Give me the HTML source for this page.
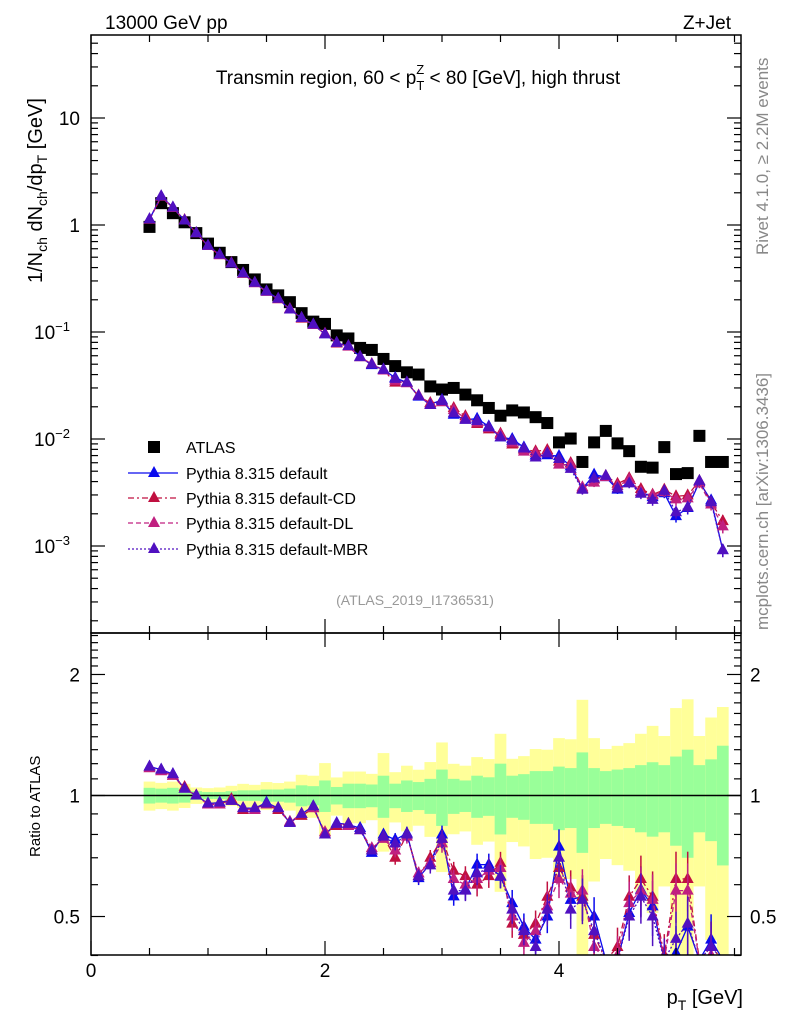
<!DOCTYPE html>
<html><head><meta charset="utf-8">
<style>
html,body{margin:0;padding:0;background:#fff;width:786px;height:1024px;overflow:hidden;}
svg{display:block;font-family:"Liberation Sans",sans-serif;}
</style></head>
<body>
<svg id="chart" width="786" height="1024" viewBox="0 0 786 1024" xmlns="http://www.w3.org/2000/svg">
<rect x="0" y="0" width="786" height="1024" fill="#fff"/>
<g id="ratioBands"></g>
<g id="mainG"></g>
<g id="ratioG"></g>
<g id="axesG"></g>
<text x="105" y="29" font-size="19">13000 GeV pp</text>
<text x="731" y="29" font-size="19" text-anchor="end">Z+Jet</text>
<text x="418" y="84" font-size="19" text-anchor="middle">Transmin region, 60 &lt; p<tspan font-size="13" dy="6">T</tspan><tspan font-size="13" dx="-8" dy="-16">Z</tspan><tspan dy="10"> &lt; 80 [GeV], high thrust</tspan></text>
<text transform="translate(42,283) rotate(-90)" font-size="20">1/N<tspan font-size="14" dy="5">ch</tspan><tspan dy="-5"> dN</tspan><tspan font-size="14" dy="5">ch</tspan><tspan dy="-5">/dp</tspan><tspan font-size="14" dy="5">T</tspan><tspan dy="-5"> [GeV]</tspan></text>
<text transform="translate(40,857) rotate(-90)" font-size="15">Ratio to ATLAS</text>
<text transform="translate(768,255) rotate(-90)" font-size="17" fill="#888">Rivet 4.1.0, ≥ 2.2M events</text>
<text transform="translate(768,630) rotate(-90)" font-size="17" fill="#888">mcplots.cern.ch [arXiv:1306.3436]</text>
<text x="415" y="605" font-size="14" fill="#999" text-anchor="middle">(ATLAS_2019_I1736531)</text>
<text x="743" y="1004" font-size="20" text-anchor="end">p<tspan font-size="14" dy="6">T</tspan><tspan dy="-6"> [GeV]</tspan></text>
<g id="legendG"></g>
</svg>
<script>
const pT = [0.5,0.6,0.7,0.8,0.9,1.0,1.1,1.2,1.3,1.4,1.5,1.6,1.7,1.8,1.9,2.0,2.1,2.2,2.3,2.4,2.5,2.6,2.7,2.8,2.9,3.0,3.1,3.2,3.3,3.4,3.5,3.6,3.7,3.8,3.9,4.0,4.1,4.2,4.3,4.4,4.5,4.6,4.7,4.8,4.9,5.0,5.1,5.2,5.3,5.4];
const atlas = [0.96,1.6,1.29,1.06,0.84,0.67,0.55,0.45,0.38,0.31,0.25,0.22,0.19,0.15,0.125,0.119,0.093,0.087,0.071,0.068,0.056,0.048,0.042,0.040,0.031,0.029,0.030,0.026,0.023,0.0195,0.0165,0.0185,0.0177,0.016,0.0141,0.0093,0.0101,0.0061,0.0093,0.0119,0.0091,0.0077,0.0055,0.0054,0.0084,0.0047,0.0048,0.0107,0.0061,0.0061];
const ratioDefault = [1.18,1.16,1.13,1.04,1.0,0.955,0.96,0.975,0.93,0.93,0.96,0.93,0.855,0.9,0.94,0.80,0.854,0.846,0.83,0.72,0.80,0.776,0.805,0.623,0.679,0.80,0.561,0.583,0.673,0.673,0.628,0.54,0.472,0.438,0.50,0.746,0.55,0.561,0.50,0.37,0.37,0.51,0.583,0.53,0.37,0.405,0.472,0.37,0.438,0.15];
const ratioCD = [1.17,1.15,1.12,1.05,1.0,0.95,0.95,0.98,0.92,0.93,0.95,0.92,0.86,0.89,0.93,0.81,0.84,0.85,0.82,0.73,0.79,0.70,0.80,0.63,0.70,0.78,0.65,0.63,0.60,0.63,0.68,0.48,0.45,0.48,0.56,0.66,0.59,0.56,0.45,0.38,0.42,0.56,0.62,0.56,0.40,0.62,0.62,0.38,0.42,0.28];
const ratioDL = [1.17,1.15,1.12,1.04,1.0,0.95,0.95,0.97,0.93,0.92,0.95,0.93,0.86,0.9,0.93,0.81,0.85,0.84,0.82,0.74,0.78,0.73,0.79,0.64,0.68,0.76,0.62,0.60,0.62,0.65,0.66,0.50,0.43,0.46,0.53,0.62,0.57,0.58,0.42,0.37,0.40,0.54,0.58,0.55,0.38,0.58,0.58,0.36,0.40,0.25];
const ratioMBR = [1.18,1.16,1.13,1.04,1.0,0.955,0.96,0.97,0.93,0.93,0.955,0.93,0.855,0.9,0.94,0.80,0.85,0.85,0.82,0.73,0.79,0.76,0.80,0.63,0.67,0.78,0.58,0.58,0.64,0.66,0.63,0.52,0.46,0.42,0.52,0.70,0.52,0.55,0.46,0.38,0.38,0.50,0.56,0.50,0.39,0.44,0.48,0.38,0.42,0.15];
const errRel = [0.01,0.01,0.01,0.01,0.01,0.01,0.01,0.01,0.01,0.01,0.01,0.01,0.01,0.015,0.015,0.02,0.02,0.02,0.02,0.025,0.025,0.03,0.03,0.03,0.035,0.04,0.04,0.045,0.05,0.05,0.05,0.06,0.06,0.06,0.07,0.08,0.08,0.1,0.09,0.08,0.09,0.1,0.11,0.12,0.1,0.13,0.13,0.1,0.12,0.14];
const yellowUp = [1.083,1.075,1.083,1.069,1.047,1.043,1.047,1.057,1.069,1.063,1.080,1.074,1.083,1.126,1.12,1.204,1.109,1.147,1.147,1.132,1.275,1.143,1.186,1.159,1.211,1.355,1.199,1.186,1.246,1.232,1.424,1.234,1.253,1.305,1.30,1.389,1.38,1.73,1.389,1.305,1.329,1.35,1.424,1.49,1.406,1.65,1.735,1.406,1.563,1.66];
const greenUp = [1.045,1.04,1.045,1.04,1.025,1.02,1.02,1.025,1.03,1.03,1.035,1.035,1.04,1.06,1.055,1.09,1.05,1.07,1.07,1.065,1.12,1.07,1.09,1.08,1.10,1.16,1.10,1.09,1.12,1.11,1.20,1.12,1.13,1.15,1.15,1.18,1.17,1.28,1.17,1.15,1.16,1.17,1.19,1.21,1.19,1.25,1.30,1.19,1.23,1.33];
const xTickLabels = ["0","2","4"];
const yTickLabels = ["10","1","10","10","10"];

const NS="http://www.w3.org/2000/svg";
const X0=91,X1=741,MT=35,MB=633,RT=633,RB=955;
function sx(v){return X0+v*117;}
function sy(v){return 225-107*Math.log10(v);}
function ry(r){return 795.5-402*Math.log10(r);}
function ryc(r){return Math.min(Math.max(ry(r),RT-5),RB+5);}
function mk(tag,attrs,parent){const e=document.createElementNS(NS,tag);for(const k in attrs)e.setAttribute(k,attrs[k]);parent.appendChild(e);return e;}
const mainG=document.getElementById('mainG'),ratioG=document.getElementById('ratioG'),bandG=document.getElementById('ratioBands'),axesG=document.getElementById('axesG'),legG=document.getElementById('legendG');
const clampR=r=>Math.min(Math.max(r,0.38),2.55);
const inRange=r=>r>0.385&&r<2.55;

const defs=mk('defs',{},document.getElementById('chart'));
const c1=mk('clipPath',{id:'cm'},defs);mk('rect',{x:X0,y:MT,width:X1-X0,height:MB-MT},c1);
const c2=mk('clipPath',{id:'cr'},defs);mk('rect',{x:X0,y:RT,width:X1-X0,height:RB-RT},c2);
mainG.setAttribute('clip-path','url(#cm)');
ratioG.setAttribute('clip-path','url(#cr)');
bandG.setAttribute('clip-path','url(#cr)');

pT.forEach((p,i)=>{
  const xa=sx(p-0.05),xb=sx(p+0.05);
  const yu=ry(clampR(yellowUp[i])),yd=ry(clampR(Math.max(2-yellowUp[i],0.38)));
  const r1=mk('rect',{x:xa,y:yu,width:xb-xa,height:Math.min(yd,RB)-yu,fill:'#ffff99'},bandG);
  
  
  const gu=ry(clampR(greenUp[i])),gd=ry(clampR(Math.max(2-greenUp[i],0.38)));
  const r2=mk('rect',{x:xa,y:gu,width:xb-xa,height:Math.min(gd,RB)-gu,fill:'#99ff99'},bandG);
  
  
});
const ul=mk('line',{x1:X0,x2:X1,y1:ry(1),y2:ry(1),stroke:'#000','stroke-width':1.5},ratioG);



pT.forEach((p,i)=>{
  const s=mk('rect',{x:sx(p)-6,y:sy(atlas[i])-6,width:12,height:12,fill:'#000'},mainG);
  
  
});

const series=[
 {name:'default',r:ratioDefault,col:'#0a0aee',dash:'',label:'Pythia 8.315 default'},
 {name:'default-cd',r:ratioCD,col:'#c01040',dash:'6,3,2,3',label:'Pythia 8.315 default-CD'},
 {name:'default-dl',r:ratioDL,col:'#c02080',dash:'5,3',label:'Pythia 8.315 default-DL'},
 {name:'default-mbr',r:ratioMBR,col:'#5010c0',dash:'2,2',label:'Pythia 8.315 default-MBR'}
];
function tri(g,x,y,col){const t=mk('polygon',{points:`${x},${y-7} ${x-6},${y+4} ${x+6},${y+4}`,fill:col},g);return t;}
series.forEach(s=>{
  const gm=mk('g',{},mainG);
  const gr=mk('g',{},ratioG);
  let pm='',pr='';
  pT.forEach((p,i)=>{
    const v=atlas[i]*s.r[i];
    pm+=(i?'L':'M')+sx(p)+','+sy(v);
    pr+=(i?'L':'M')+sx(p)+','+ryc(s.r[i]);
  });
  const lm=mk('path',{d:pm,fill:'none',stroke:s.col,'stroke-width':1.3,'stroke-dasharray':s.dash},gm);
  
  
  const lr=mk('path',{d:pr,fill:'none',stroke:s.col,'stroke-width':1.3,'stroke-dasharray':s.dash},gr);
  
  
  pT.forEach((p,i)=>{
    const v=atlas[i]*s.r[i],e=errRel[i];
    const x=sx(p);
    const rin=inRange(s.r[i]);
    if(e>=0.03){
      const eb=mk('line',{x1:x,x2:x,y1:sy(v*(1+e)),y2:sy(v*(1-e)),stroke:s.col,'stroke-width':1.5},gm);
      
      
      if(rin){
        const er=mk('line',{x1:x,x2:x,y1:ryc(s.r[i]*(1+e*1.3)),y2:ryc(s.r[i]*(1-e*1.3)),stroke:s.col,'stroke-width':1.5},gr);
        
        
      }
    }
    const t1=tri(gm,x,sy(v),s.col);
    
    
    if(rin){
      const t2=tri(gr,x,ry(s.r[i]),s.col);
      
      
    }
  });
});

[[MT,MB],[RT,RB]].forEach(([a,b])=>{
  const f=mk('rect',{x:X0,y:a,width:X1-X0,height:b-a,fill:'none',stroke:'#000','stroke-width':1.5},axesG);
  
  
});
for(let k=0;k<=11;k++){
  const v=k*0.5;const x=sx(v);if(x>X1)break;
  const L=(k%4===0)?14:7;
  [[MB,-1],[MT,1],[RB,-1],[RT,1]].forEach(([y,d])=>{
    const t=mk('line',{x1:x,x2:x,y1:y,y2:y+d*L,stroke:'#000','stroke-width':1.2},axesG);
    
    
  });
}
xTickLabels.forEach((lab,i)=>{
  const t=mk('text',{x:sx(i*2),y:977,'font-size':19,'text-anchor':'middle'},axesG);t.textContent=lab;
  
  
});
for(let d=-4;d<=1;d++){
  for(let m=1;m<=9;m++){
    const v=m*Math.pow(10,d);const y=sy(v);if(y<MT||y>MB)continue;
    const L=m===1?14:7;
    [[X0,1],[X1,-1]].forEach(([x,s])=>{
      const t=mk('line',{x1:x,x2:x+s*L,y1:y,y2:y,stroke:'#000','stroke-width':1.2},axesG);
      
      
    });
  }
}
const ylab=[[10,''],[1,''],[0.1,'−1'],[0.01,'−2'],[0.001,'−3']];
ylab.forEach(([v,ex],i)=>{
  const t=mk('text',{x:ex?70:80,y:sy(v)+7,'font-size':19,'text-anchor':'end'},axesG);
  t.textContent=ex?yTickLabels[i]:(i===0?'10':'1');
  
  
  if(ex){const s=mk('tspan',{'font-size':13,dy:-8},t);s.textContent=ex;}
});
[0.4,0.5,0.6,0.7,0.8,0.9,1,2].forEach(v=>{
  const y=ry(v);const L=(v===0.5||v===1||v===2)?14:7;
  [[X0,1],[X1,-1]].forEach(([x,s])=>{
    const t=mk('line',{x1:x,x2:x+s*L,y1:y,y2:y,stroke:'#000','stroke-width':1.2},axesG);
    
    
  });
});
for(let v=1.1;v<2.55;v+=0.1){const y=ry(v);if(Math.abs(v-2)<0.01)continue;
  [[X0,1],[X1,-1]].forEach(([x,s])=>{
    const t=mk('line',{x1:x,x2:x+s*7,y1:y,y2:y,stroke:'#000','stroke-width':1.2},axesG);
    
    
  });
}
[[2,'2'],[1,'1'],[0.5,'0.5']].forEach(([v,l])=>{
  [[80,'end'],[750,'start']].forEach(([x,a])=>{
    const t=mk('text',{x:x,y:ry(v)+7,'font-size':19,'text-anchor':a},axesG);t.textContent=l;
    
    
  });
});
const ly=[447,473,498,523,549];
const sq=mk('rect',{x:148,y:ly[0]-6,width:12,height:12,fill:'#000'},legG);


const lt=mk('text',{x:186,y:ly[0]+6,'font-size':16},legG);lt.textContent='ATLAS';


series.forEach((s,i)=>{
  const y=ly[i+1];
  const l=mk('line',{x1:128,x2:178,y1:y,y2:y,stroke:s.col,'stroke-width':1.3,'stroke-dasharray':s.dash},legG);
  
  
  const t=tri(legG,154,y,s.col);
  
  
  const tx=mk('text',{x:186,y:y+6,'font-size':16},legG);tx.textContent=s.label;
  
  
});
</script>
</body></html>
